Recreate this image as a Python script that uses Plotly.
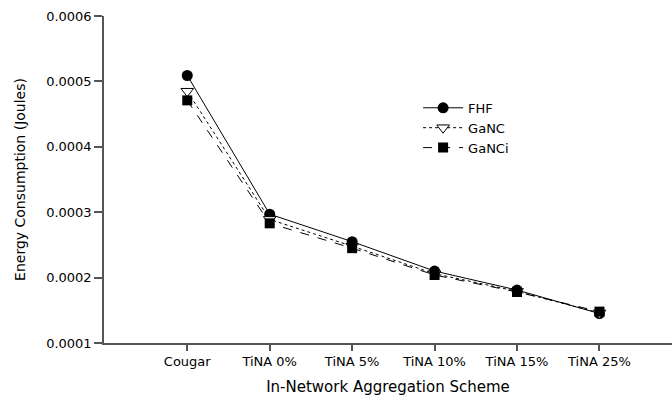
import plotly.graph_objects as go

categories = ["Cougar", "TiNA 0%", "TiNA 5%", "TiNA 10%", "TiNA 15%", "TiNA 25%"]
fhf = [0.000509, 0.000297, 0.000255, 0.000210, 0.000181, 0.000145]
ganc = [0.000485, 0.000289, 0.000248, 0.000206, 0.000179, 0.000146]
ganci = [0.000471, 0.000283, 0.000245, 0.000204, 0.000178, 0.000148]
x_idx = list(range(len(categories)))

fig = go.Figure()
fig.add_trace(go.Scatter(x=x_idx, y=fhf, name="FHF", mode="lines+markers",
                         line=dict(color="black", width=1, dash="solid"),
                         marker=dict(symbol="circle", size=11, color="black")))
fig.add_trace(go.Scatter(x=x_idx, y=ganc, name="GaNC", mode="lines+markers",
                         line=dict(color="black", width=1, dash="dot"),
                         marker=dict(symbol="triangle-down", size=11, color="white",
                                     line=dict(color="black", width=1))))
fig.add_trace(go.Scatter(x=x_idx, y=ganci, name="GaNCi", mode="lines+markers",
                         line=dict(color="black", width=1, dash="dash"),
                         marker=dict(symbol="square", size=10, color="black")))

font = "DejaVu Sans, Liberation Sans, Arial, sans-serif"
fig.update_layout(
    width=672, height=398,
    margin=dict(l=104, r=0, t=16, b=55),
    paper_bgcolor="white", plot_bgcolor="white",
    font=dict(family=font, size=13, color="black"),
    showlegend=True,
    legend=dict(x=0.553, y=0.765, xanchor="left", yanchor="top",
                bgcolor="rgba(0,0,0,0)", font=dict(size=13),
                tracegroupgap=0, itemwidth=40),
    xaxis=dict(range=[-1.01, 5.88], tickmode="array", tickvals=x_idx, ticktext=categories,
               showgrid=False, zeroline=False, showline=True, linecolor="#555", linewidth=1.5,
               ticks="outside", ticklen=6, tickcolor="#555", tickwidth=1.5,
               tickfont=dict(size=13),
               title=dict(text="In-Network Aggregation Scheme", font=dict(size=15), standoff=13)),
    yaxis=dict(range=[0.0001, 0.0006], tickvals=[0.0001, 0.0002, 0.0003, 0.0004, 0.0005, 0.0006],
               ticktext=["0.0001", "0.0002", "0.0003", "0.0004", "0.0005", "0.0006"],
               showgrid=False, zeroline=False, showline=True, linecolor="#555", linewidth=1.5,
               ticks="outside", ticklen=8, tickcolor="#555", tickwidth=1.5,
               tickfont=dict(size=13),
               title=dict(text="Energy Consumption (Joules)", font=dict(size=14), standoff=17)),
)
fig.write_html("out.html")
